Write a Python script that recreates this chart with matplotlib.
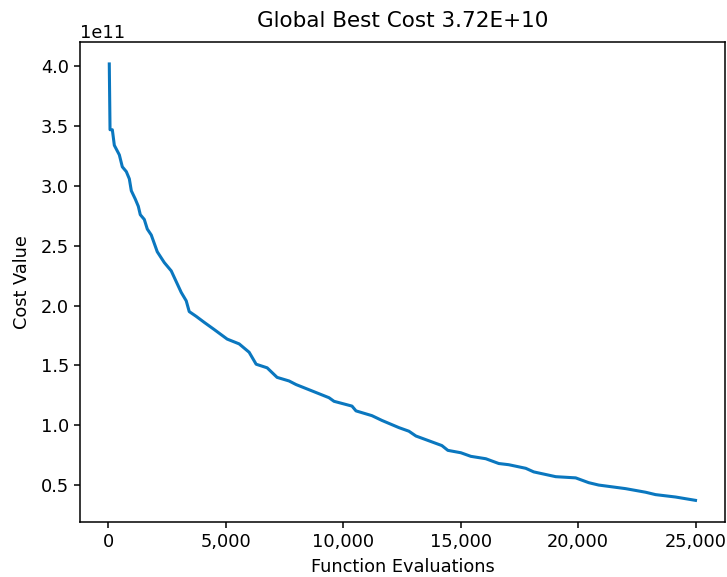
import numpy as np
import matplotlib.pyplot as plt
from matplotlib.ticker import FuncFormatter

# function evaluations and best cost (x 1e11)
evals = [40, 72, 170, 255, 468, 595, 765, 893, 978, 1148, 1276, 1360, 1531,
         1658, 1828, 2083, 2381, 2679, 2891, 3104, 3316, 3444, 3741, 4082,
         4507, 5060, 5570, 5995, 6293, 6761, 7185, 7695, 7993,
         8759, 9396, 9609, 10374, 10544, 11224, 11650, 12372, 12798, 13095,
         13648, 14201, 14456, 15009, 15434, 16071, 16624, 17049, 17772,
         18112, 19048, 19898, 20451, 20876, 22024, 22874, 23299, 24150, 25000]
cost = [4.02, 3.47, 3.47, 3.34, 3.26, 3.16, 3.12, 3.06, 2.96, 2.89, 2.83,
        2.76, 2.72, 2.64, 2.59, 2.45, 2.36, 2.29, 2.20, 2.11, 2.04, 1.95,
        1.91, 1.86, 1.80, 1.72, 1.68, 1.61, 1.51, 1.48, 1.40,
        1.37, 1.34, 1.28, 1.23, 1.20, 1.16, 1.12, 1.08, 1.04, 0.98, 0.95,
        0.91, 0.87, 0.83, 0.79, 0.77, 0.74, 0.72, 0.68, 0.67, 0.64, 0.61,
        0.57, 0.56, 0.52, 0.50, 0.47, 0.44, 0.42, 0.40, 0.372]

cost = np.array(cost) * 1e11

fig = plt.figure(figsize=(7.27, 5.77), dpi=100)
ax = fig.add_axes([0.110, 0.095, 0.887, 0.832])
ax.plot(evals, cost, color="#0a77bf", linewidth=2.2)
ax.set_yticks(np.arange(0.5, 4.01, 0.5) * 1e11)
ax.xaxis.set_major_formatter(FuncFormatter(lambda v, p: "{:,.0f}".format(v)))
ax.tick_params(labelsize=12.8, length=4.5, width=1.1)
for s in ax.spines.values():
    s.set_linewidth(1.1)
ax.yaxis.get_offset_text().set_fontsize(12.8)
ax.set_xlabel("Function Evaluations", fontsize=12.8, labelpad=5)
ax.set_ylabel("Cost Value", fontsize=12.8, labelpad=7)
ax.set_title("Global Best Cost 3.72E+10", fontsize=15.5, pad=11)
fig.savefig("out.png")
